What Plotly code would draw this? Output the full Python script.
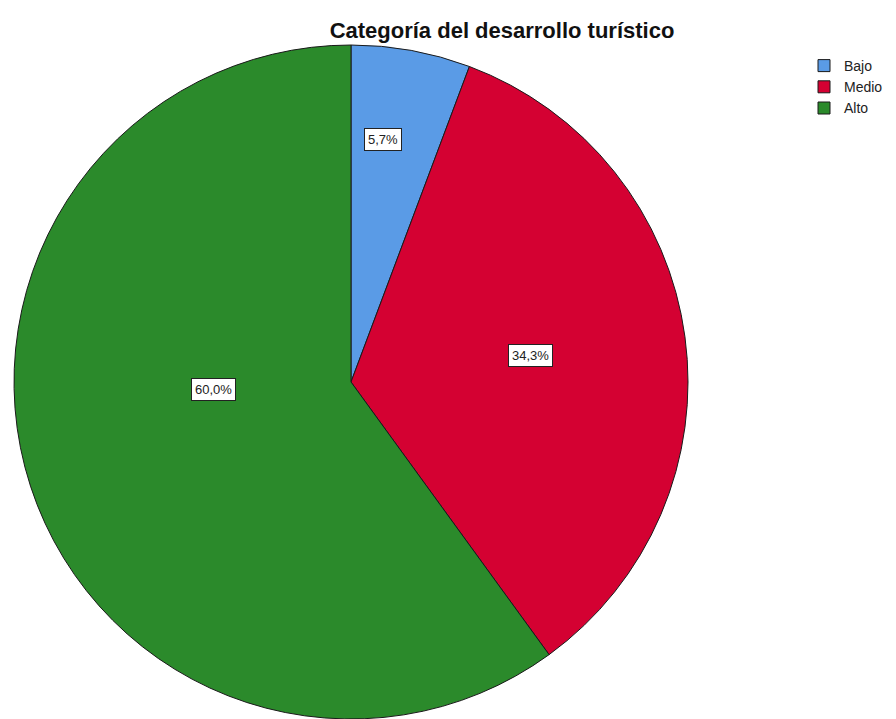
import math
import plotly.graph_objects as go

# Frequencies per category of tourism development
categories = ["Bajo", "Medio", "Alto"]
counts = [2, 12, 21]
colors = ["#5A9BE6", "#D40132", "#2B8A2B"]

W, H = 896, 719

# Pie domain (paper fractions): circle spans x 12..690 px, y 45..719 px
dom_x = [12 / W, 690 / W]
dom_y = [0.0, 1 - 45 / H]

fig = go.Figure(
    go.Pie(
        labels=categories,
        values=counts,
        sort=False,
        direction="clockwise",
        rotation=0,
        marker=dict(colors=colors, line=dict(color="#1a1a1a", width=1)),
        textinfo="none",
        hoverinfo="label+percent",
        domain=dict(x=dom_x, y=dom_y),
    )
)

# Boxed percentage labels placed inside each slice
total = sum(counts)
cx = (dom_x[0] + dom_x[1]) / 2 * W
cy = (1 - (dom_y[0] + dom_y[1]) / 2) * H
radius = min((dom_x[1] - dom_x[0]) * W, (dom_y[1] - dom_y[0]) * H) / 2
# (angle from 12 o'clock clockwise in degrees, fraction of radius) per label
label_place = [(7.4, 0.727), (81.7, 0.537), (266.7, 0.41)]
for cnt, (ang, frac) in zip(counts, label_place):
    pct = cnt / total * 100
    a = math.radians(ang)
    px = cx + frac * radius * math.sin(a)
    py = cy - frac * radius * math.cos(a)
    fig.add_annotation(
        x=px / W,
        y=1 - py / H,
        xref="paper",
        yref="paper",
        xanchor="center",
        yanchor="middle",
        text=f"{pct:.1f}%".replace(".", ","),
        showarrow=False,
        font=dict(family="Liberation Sans, Arial, sans-serif", size=13, color="#222222"),
        bgcolor="white",
        bordercolor="#222222",
        borderwidth=1,
        borderpad=3,
    )

fig.update_layout(
    width=W,
    height=H,
    margin=dict(l=0, r=0, t=0, b=0),
    paper_bgcolor="white",
    plot_bgcolor="white",
    separators=",.",
    title=dict(
        text="<b>Categoría del desarrollo turístico</b>",
        x=502 / W,
        xanchor="center",
        y=1 - 30 / H,
        yanchor="middle",
        font=dict(family="Liberation Sans, Arial, sans-serif", size=22, color="#111111"),
    ),
    legend=dict(
        x=804 / W,
        y=1 - 50 / H,
        xanchor="left",
        yanchor="top",
        font=dict(family="Liberation Sans, Arial, sans-serif", size=14, color="#222222"),
        tracegroupgap=0,
        itemwidth=30,
        bgcolor="rgba(0,0,0,0)",
    ),
    showlegend=True,
)

fig.write_html("out.html")
